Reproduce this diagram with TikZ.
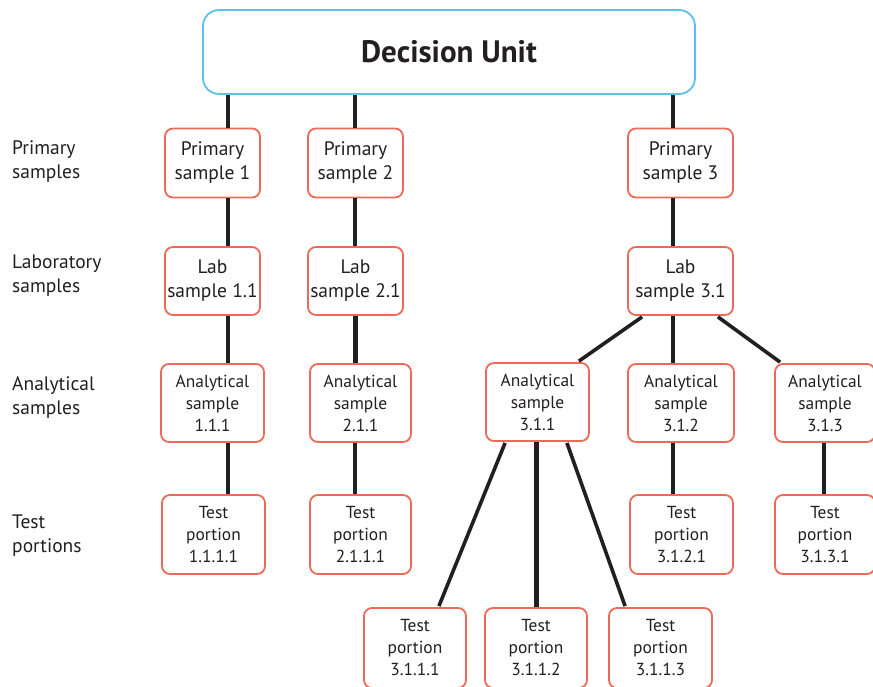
\documentclass[tikz,border=0pt]{standalone}
\usepackage{fontspec}
\setmainfont{PT Sans}
\definecolor{boxred}{HTML}{EC6A57}
\definecolor{boxblue}{HTML}{5BC2EC}
\definecolor{ink}{HTML}{231F20}
\begin{document}
\begin{tikzpicture}[x=1pt,y=-1pt,
  box/.style={draw=boxred, line width=1.8pt, rounded corners=8pt, fill=white, align=center, text=ink, inner sep=0pt},
  sbox/.style={box, minimum width=95pt, minimum height=69pt, font=\fontsize{19.5}{24}\selectfont},
  abox/.style={box, minimum height=78pt, font=\fontsize{17.4}{22}\selectfont},
  lab/.style={anchor=west, align=left, text=ink, font=\fontsize{19.5}{24}\selectfont, inner sep=0pt},
  link/.style={draw=ink, line width=3.6pt},
  tlink/.style={draw=ink, line width=5pt}]
\useasboundingbox (0,0) rectangle (873,686);
% top
\node[draw=boxblue, line width=1.8pt, rounded corners=16pt, minimum width=492pt, minimum height=84pt, inner sep=0pt, text=ink, font=\fontsize{31}{34}\selectfont\bfseries] (du) at (449,52) {Decision Unit};
% row labels
\node[lab] (l1) at (12,162) {Primary\\samples};
\node[lab] (l2) at (12,276) {Laboratory\\samples};
\node[lab] (l3) at (12,398) {Analytical\\samples};
\node[lab] (l4) at (12,536) {Test\\portions};
% primary
\node[sbox] (p1) at (212.5,163) {Primary\\sample 1};
\node[sbox] (p2) at (355.5,163) {Primary\\sample 2};
\node[sbox, minimum width=105pt] (p3) at (680.5,163) {Primary\\sample 3};
% lab
\node[sbox, minimum height=68pt] (s1) at (212.5,281) {Lab\\sample 1.1};
\node[sbox, minimum height=68pt] (s2) at (355.5,281) {Lab\\sample 2.1};
\node[sbox, minimum width=105pt, minimum height=68pt] (s3) at (680.5,281) {Lab\\sample 3.1};
% analytical
\node[abox, minimum width=103pt] (a1) at (212.5,403) {Analytical\\sample\\1.1.1};
\node[abox, minimum width=101pt] (a2) at (360.5,403) {Analytical\\sample\\2.1.1};
\node[abox, minimum width=103pt] (a31) at (537.5,402) {Analytical\\sample\\3.1.1};
\node[abox, minimum width=106pt] (a32) at (681,403) {Analytical\\sample\\3.1.2};
\node[abox, minimum width=100pt] (a33) at (825,403) {Analytical\\sample\\3.1.3};
% test portions
\node[abox, minimum width=103pt, minimum height=79pt] (t1) at (213.5,534.5) {Test\\portion\\1.1.1.1};
\node[abox, minimum width=101pt, minimum height=79pt] (t2) at (360.5,534.5) {Test\\portion\\2.1.1.1};
\node[abox, minimum width=103pt, minimum height=79pt] (t32) at (681.5,534.5) {Test\\portion\\3.1.2.1};
\node[abox, minimum width=100pt, minimum height=79pt] (t33) at (825,534.5) {Test\\portion\\3.1.3.1};
\node[abox, minimum width=102pt, minimum height=80pt] (t311) at (415,648) {Test\\portion\\3.1.1.1};
\node[abox, minimum width=102pt, minimum height=80pt] (t312) at (536,648) {Test\\portion\\3.1.1.2};
\node[abox, minimum width=103pt, minimum height=80pt] (t313) at (660.5,648) {Test\\portion\\3.1.1.3};
% column x positions
\coordinate (c1) at (228,0);
\coordinate (c2) at (355,0);
\coordinate (c3) at (673,0);
\coordinate (c4) at (824,0);
\coordinate (c5) at (536,0);
% connectors
\draw[link] (du.south -| c1) -- (p1.north -| c1);
\draw[link] (du.south -| c2) -- (p2.north -| c2);
\draw[link] (du.south -| c3) -- (p3.north -| c3);
\draw[link] (p1.south -| c1) -- (s1.north -| c1);
\draw[link] (p2.south -| c2) -- (s2.north -| c2);
\draw[link] (p3.south -| c3) -- (s3.north -| c3);
\draw[link] (s1.south -| c1) -- (a1.north -| c1);
\draw[tlink] (s2.south -| c2) -- (a2.north -| c2);
\draw[link] (s3.south -| c3) -- (a32.north -| c3);
\path (s3.south west) ++(15,1) coordinate (s3a) (a31.north east) ++(-11,-1) coordinate (a31a);
\draw[link] (s3a) -- (a31a);
\path (s3.south east) ++(-16,1) coordinate (s3b) (a33.north west) ++(6,-1) coordinate (a33b);
\draw[link] (s3b) -- (a33b);
\draw[link] (a1.south -| c1) -- (t1.north -| c1);
\draw[link] (a2.south -| c2) -- (t2.north -| c2);
\draw[link] (a32.south -| c3) -- (t32.north -| c3);
\draw[link] (a33.south -| c4) -- (t33.north -| c4);
\path (a31.south west) ++(20,1) coordinate (a31l) (t311.north east) ++(-28,-1) coordinate (t311r);
\draw[link] (a31l) -- (t311r);
\draw[tlink] (a31.south -| c5) -- (t312.north -| c5);
\path (a31.south east) ++(-23,1) coordinate (a31r) (t313.north west) ++(17,-1) coordinate (t313l);
\draw[link] (a31r) -- (t313l);
\end{tikzpicture}
\end{document}
